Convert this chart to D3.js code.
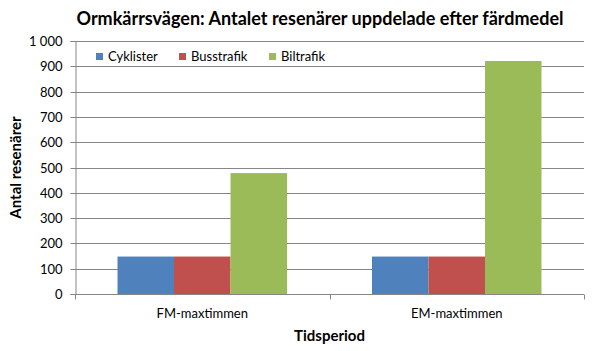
<!DOCTYPE html>
<html>
<head>
<meta charset="utf-8">
<script src="https://cdn.jsdelivr.net/npm/d3@7"></script>
<style>
  body { margin: 0; background: #fff; }
  svg { display: block; font-family: Lato, "Open Sans", sans-serif; }
</style>
</head>
<body>
<div id="chart"></div>
<script>
// data
const categories = ['FM-maxtimmen', 'EM-maxtimmen'];
const seriesNames = ['Cyklister', 'Busstrafik', 'Biltrafik'];
const seriesColors = ['#4f81bd', '#c0504d', '#9bbb59'];
const cyklister = [148, 148];
const busstrafik = [148, 148];
const biltrafik = [478, 921];
const yTicks = [0, 100, 200, 300, 400, 500, 600, 700, 800, 900, 1000];

const width = 595, height = 351;
const margin = { top: 41, right: 11, bottom: 57, left: 75 };
const innerW = width - margin.left - margin.right;
const innerH = height - margin.top - margin.bottom;

const svg = d3.select('#chart').append('svg')
    .attr('width', width)
    .attr('height', height);

const g = svg.append('g')
    .attr('transform', 'translate(' + margin.left + ',' + margin.top + ')');

const x0 = d3.scaleBand()
    .domain(categories)
    .range([0, innerW])
    .paddingInner(0)
    .paddingOuter(0);

const groupPad = 42.5;
const x1 = d3.scaleBand()
    .domain(seriesNames)
    .range([groupPad, x0.bandwidth() - groupPad]);

const y = d3.scaleLinear()
    .domain([0, 1000])
    .range([innerH, 0]);

// gridlines
g.selectAll('.grid')
    .data(yTicks.filter(d => d > 0))
    .enter()
    .append('line')
    .attr('x1', 0)
    .attr('x2', innerW)
    .attr('y1', d => Math.round(y(d)) + 0.5)
    .attr('y2', d => Math.round(y(d)) + 0.5)
    .attr('stroke', '#868686')
    .attr('stroke-width', 1);

// bars
const table = categories.map((c, i) => ({
    cat: c,
    values: [cyklister[i], busstrafik[i], biltrafik[i]]
}));

const groups = g.selectAll('.grp')
    .data(table)
    .enter()
    .append('g')
    .attr('transform', d => 'translate(' + x0(d.cat) + ',0)');

groups.selectAll('rect')
    .data(d => d.values.map((v, j) => ({ name: seriesNames[j], value: v, color: seriesColors[j] })))
    .enter()
    .append('rect')
    .attr('x', d => x1(d.name))
    .attr('width', x1.bandwidth())
    .attr('y', d => y(d.value))
    .attr('height', d => innerH - y(d.value))
    .attr('fill', d => d.color);

// y axis
const yAxis = d3.axisLeft(y)
    .tickValues(yTicks)
    .tickSize(5)
    .tickPadding(8)
    .tickFormat(d => d3.format(',')(d).replace(',', ' '));

const yAxisLine = g.append('g')
    .attr('transform', 'translate(0.5,0)')
    .call(yAxis);
yAxisLine.select('.domain').attr('stroke', '#868686');
yAxisLine.selectAll('.tick line').attr('stroke', '#868686');
yAxisLine.selectAll('.tick').attr('transform', d => 'translate(0,' + (Math.round(y(d)) + 0.5) + ')');
yAxisLine.selectAll('text')
    .attr('fill', '#000')
    .style('font-size', '13px')
    .style('font-family', 'Lato, sans-serif');

// x axis
const xAxisLine = g.append('g')
    .attr('transform', 'translate(0,' + (Math.round(innerH) + 0.5) + ')');
xAxisLine.append('line')
    .attr('x1', 0).attr('x2', innerW)
    .attr('stroke', '#868686');
xAxisLine.selectAll('.xt')
    .data([0, 1, 2])
    .enter()
    .append('line')
    .attr('x1', i => Math.round(i * x0.step()) + 0.5)
    .attr('x2', i => Math.round(i * x0.step()) + 0.5)
    .attr('y1', 0)
    .attr('y2', 5)
    .attr('stroke', '#868686');
xAxisLine.selectAll('.xl')
    .data(categories)
    .enter()
    .append('text')
    .attr('x', d => x0(d) + x0.bandwidth() / 2)
    .attr('y', 23)
    .attr('text-anchor', 'middle')
    .style('font-size', '13px')
    .text(d => d);

// title
svg.append('text')
    .attr('x', 320)
    .attr('y', 25)
    .attr('text-anchor', 'middle')
    .style('font-size', '18px')
    .style('font-weight', 'bold')
    .text('Ormkärrsvägen: Antalet resenärer uppdelade efter färdmedel');

// axis titles
svg.append('text')
    .attr('x', margin.left + innerW / 2)
    .attr('y', 341)
    .attr('text-anchor', 'middle')
    .style('font-size', '15px')
    .style('font-weight', 'bold')
    .text('Tidsperiod');

svg.append('text')
    .attr('transform', 'translate(21,' + (margin.top + innerH / 2) + ') rotate(-90)')
    .attr('text-anchor', 'middle')
    .style('font-size', '15px')
    .style('font-weight', 'bold')
    .text('Antal resenärer');

// legend
const legendX = [96, 179, 269];
const legend = svg.selectAll('.leg')
    .data(seriesNames)
    .enter()
    .append('g')
    .attr('transform', (d, i) => 'translate(' + legendX[i] + ',53)');
legend.append('rect')
    .attr('width', 7)
    .attr('height', 7)
    .attr('fill', (d, i) => seriesColors[i]);
legend.append('text')
    .attr('x', 12)
    .attr('y', 8)
    .style('font-size', '13px')
    .text(d => d);
</script>
</body>
</html>
